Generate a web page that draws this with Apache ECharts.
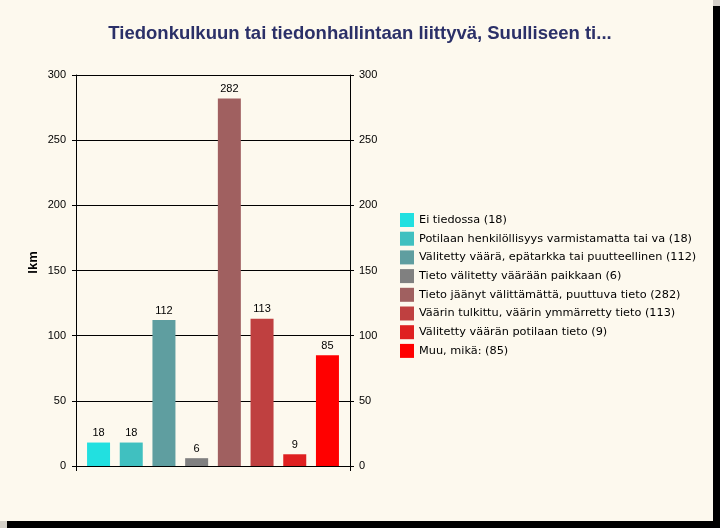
<!DOCTYPE html>
<html><head><meta charset="utf-8">
<script src="https://cdn.jsdelivr.net/npm/echarts@6/dist/echarts.min.js"></script>
<style>
html,body{margin:0;padding:0;background:#D4D0C8;width:720px;height:528px;overflow:hidden;}
#shadow{position:absolute;left:7px;top:6px;width:713px;height:522px;background:#000;}
#panel{position:absolute;left:0;top:0;width:713px;height:521px;background:#FDF9EE;}
#chart{position:absolute;left:0;top:0;width:720px;height:528px;}
</style></head>
<body>
<div id="shadow"></div><div id="panel"></div><div id="chart"></div>
<script>
const titleText = 'Tiedonkulkuun tai tiedonhallintaan liittyvä, Suulliseen ti...';
const categories = [
  'Ei tiedossa',
  'Potilaan henkilöllisyys varmistamatta tai va',
  'Välitetty väärä, epätarkka tai puutteellinen',
  'Tieto välitetty väärään paikkaan',
  'Tieto jäänyt välittämättä, puuttuva tieto',
  'Väärin tulkittu, väärin ymmärretty tieto',
  'Välitetty väärän potilaan tieto',
  'Muu, mikä:'
];
const values = [18, 18, 112, 6, 282, 113, 9, 85];
const colors = ['#22E0E0','#40C0C0','#5F9EA0','#808080','#A06060','#BF4040','#DF2020','#FF0000'];
const yTicks = {min: 0, max: 300, interval: 50};
const yName = 'lkm';

const chart = echarts.init(document.getElementById('chart'), null, {renderer: 'canvas'});
const axisFont = {fontFamily: 'Liberation Sans, Arial, sans-serif', fontSize: 11, color: '#000'};
const series = categories.map((c, i) => ({
  name: c + ' (' + values[i] + ')',
  type: 'bar',
  xAxisIndex: 1, yAxisIndex: 2,
  stack: 'all',
  barWidth: 23,
  itemStyle: {color: colors[i]},
  label: {show: true, position: 'top', distance: 4, ...axisFont},
  data: categories.map((_, j) => j === i ? values[i] : '-'),
  animation: false
}));
chart.setOption({
  animation: false,
  title: {text: titleText, left: 'center', top: 24, padding: 0,
    textStyle: {fontFamily: 'Liberation Sans, Arial, sans-serif', fontSize: 18.5, fontWeight: 'bold', color: '#2B3068'}},
  grid: [
    {left: 76, right: 370, top: 75, bottom: 62},
    {left: 82.2, width: 261.6, top: 75, bottom: 62}
  ],
  legend: {
    orient: 'vertical', left: 400, top: 213, padding: 0,
    itemWidth: 14, itemHeight: 14, itemGap: 4.7,
    icon: 'rect',
    textStyle: {fontFamily: 'DejaVu Sans, Verdana, sans-serif', fontSize: 11.3, color: '#000'},
    data: series.map(s => s.name)
  },
  xAxis: [
    {type: 'category', gridIndex: 0, data: [''], boundaryGap: true,
      axisLine: {lineStyle: {color: '#000', width: 1}},
      axisTick: {show: true, length: 5, lineStyle: {color: '#000'}},
      axisLabel: {show: false}, splitLine: {show: false}},
    {type: 'category', gridIndex: 1, data: categories, show: false}
  ],
  yAxis: [
    {type: 'value', gridIndex: 0, position: 'left', ...yTicks,
      name: yName, nameLocation: 'middle', nameGap: 36, nameRotate: 90,
      nameTextStyle: {fontFamily: 'Liberation Sans, Arial, sans-serif', fontSize: 13, fontWeight: 'bold', color: '#000', padding: [0, 0, 0, 16]},
      axisLine: {show: true, lineStyle: {color: '#000'}},
      axisTick: {show: true, length: 4, lineStyle: {color: '#000'}},
      axisLabel: {margin: 10, ...axisFont},
      splitLine: {show: true, lineStyle: {color: '#000', width: 1}}},
    {type: 'value', gridIndex: 0, position: 'right', ...yTicks,
      axisLine: {show: true, lineStyle: {color: '#000'}},
      axisTick: {show: true, length: 4, lineStyle: {color: '#000'}},
      axisLabel: {margin: 9, ...axisFont},
      splitLine: {show: false}},
    {type: 'value', gridIndex: 1, ...yTicks, show: false, splitLine: {show: false}}
  ],
  series: series
});
</script>
</body></html>
